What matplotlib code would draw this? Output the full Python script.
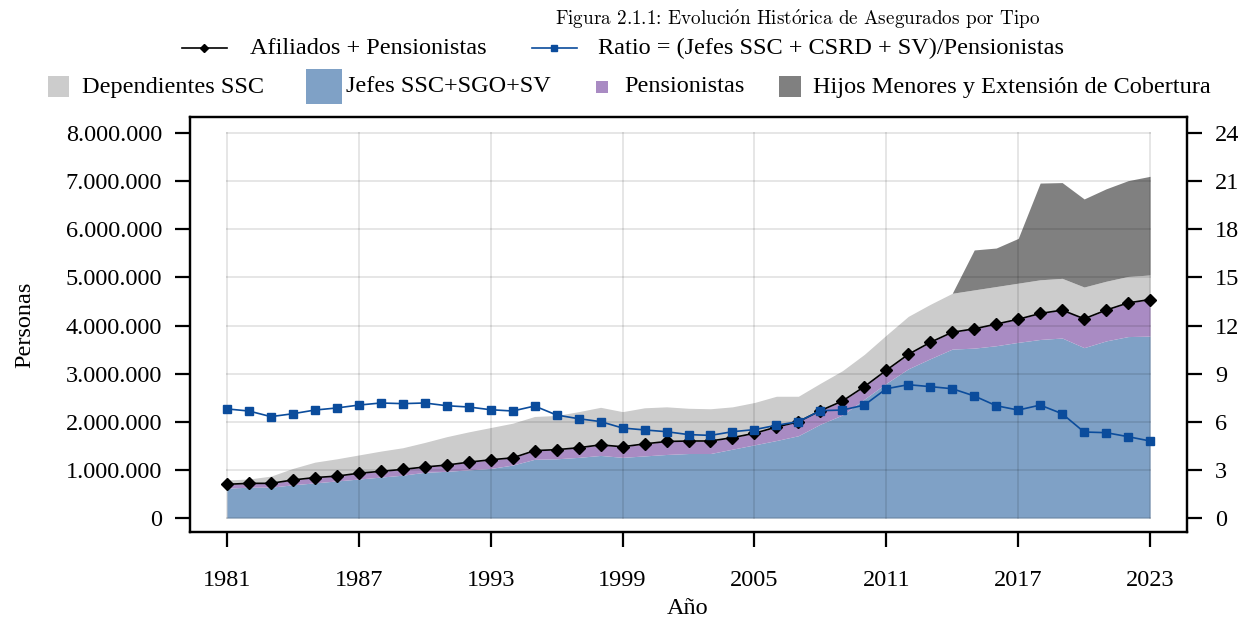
import matplotlib
matplotlib.use('Agg')
import matplotlib.pyplot as plt
from matplotlib.patches import Rectangle
from matplotlib.lines import Line2D
from matplotlib.ticker import FuncFormatter

# Datos
anios = list(range(1981, 2024))
afiliados_pens = [0.70, 0.72, 0.72, 0.79, 0.84, 0.87, 0.93, 0.97, 1.01, 1.06,
                  1.10, 1.16, 1.21, 1.25, 1.40, 1.42, 1.46, 1.52, 1.48, 1.54,
                  1.59, 1.60, 1.60, 1.67, 1.76, 1.89, 2.00, 2.23, 2.43, 2.73,
                  3.07, 3.40, 3.65, 3.86, 3.93, 4.03, 4.13, 4.25, 4.32, 4.14,
                  4.32, 4.47, 4.54]
jefes = [0.62, 0.64, 0.64, 0.69, 0.73, 0.77, 0.81, 0.85, 0.89, 0.95,
         0.97, 1.00, 1.03, 1.10, 1.22, 1.23, 1.26, 1.30, 1.26, 1.29,
         1.32, 1.34, 1.34, 1.43, 1.52, 1.61, 1.71, 1.95, 2.14, 2.47,
         2.80, 3.10, 3.31, 3.51, 3.53, 3.58, 3.65, 3.71, 3.74, 3.54,
         3.68, 3.77, 3.78]
total_ssc = [0.79, 0.81, 0.87, 1.03, 1.16, 1.23, 1.31, 1.39, 1.46, 1.57,
             1.69, 1.79, 1.88, 1.97, 2.11, 2.13, 2.21, 2.30, 2.21, 2.29,
             2.31, 2.28, 2.27, 2.31, 2.40, 2.53, 2.53, 2.80, 3.06, 3.40,
             3.80, 4.19, 4.44, 4.67, 4.74, 4.81, 4.88, 4.95, 4.98, 4.80,
             4.92, 5.02, 5.05]
anios_hijos = list(range(2014, 2024))
total_hijos = [4.67, 5.57, 5.61, 5.81, 6.96, 6.97, 6.63, 6.84, 7.01, 7.10]
ratio = [6.80, 6.67, 6.32, 6.50, 6.73, 6.86, 7.04, 7.17, 7.13, 7.17,
         7.00, 6.92, 6.75, 6.67, 6.98, 6.42, 6.19, 6.01, 5.61, 5.49,
         5.38, 5.20, 5.15, 5.38, 5.51, 5.78, 6.01, 6.69, 6.73, 7.04,
         8.06, 8.31, 8.19, 8.06, 7.61, 7.00, 6.73, 7.04, 6.50, 5.36,
         5.32, 5.07, 4.80]

xticks = [1981, 1987, 1993, 1999, 2005, 2011, 2017, 2023]
M = 1e6
afil = [v * M for v in afiliados_pens]
jef = [v * M for v in jefes]
tot = [v * M for v in total_ssc]
tot_h = [v * M for v in total_hijos]
tot_base = [tot[anios.index(a)] for a in anios_hijos]

c_dep = '#cccccc'
c_jef = '#7fa1c6'
c_pen = '#a98bc3'
c_hij = '#808080'
c_ratio = '#0b4c9c'

plt.rcParams['font.family'] = ['Liberation Serif', 'DejaVu Serif']
plt.rcParams['mathtext.fontset'] = 'cm'
FS = 17.5

W, H = 1245, 622
fig = plt.figure(figsize=(W / 100, H / 100), dpi=100)

def fx(px):
    return px / W

def fy(py):
    return 1 - py / H

ax = fig.add_axes([fx(190), fy(532), fx(1187) - fx(190), fy(117) - fy(532)])
ax.fill_between(anios, 0, jef, color=c_jef, lw=0, zorder=1)
ax.fill_between(anios, jef, afil, color=c_pen, lw=0, zorder=1)
ax.fill_between(anios, afil, tot, color=c_dep, lw=0, zorder=1)
ax.fill_between(anios_hijos, tot_base, tot_h, color=c_hij, lw=0, zorder=1)

# rejilla dentro del area de datos
for x in xticks:
    ax.plot([x, x], [0, 8 * M], color='black', alpha=0.1, lw=1.4, zorder=2)
for y in range(0, 9):
    ax.plot([1981, 2023], [y * M, y * M], color='black', alpha=0.1, lw=1.4, zorder=2)

ax.plot(anios, afil, color='black', lw=1.2, marker='D', ms=6.3, zorder=4)

ax.set_xlim(1979.32, 2024.68)
ax.set_ylim(-0.291 * M, 8.333 * M)
ax.set_xticks(xticks)
ax.set_yticks([i * M for i in range(9)])
ax.yaxis.set_major_formatter(FuncFormatter(lambda v, p: f'{int(round(v)):,}'.replace(',', '.')))

ax2 = ax.twinx()
ax2.plot(anios, ratio, color=c_ratio, lw=1.2, marker='s', ms=5.5, zorder=5)
ax2.set_ylim(-0.873, 25.0)
ax2.set_yticks(range(0, 25, 3))

for a in (ax, ax2):
    for s in a.spines.values():
        s.set_linewidth(1.6)
    a.tick_params(length=11, width=1.6, labelsize=FS, pad=9)
ax.tick_params(axis='x', pad=16)

fig.text(fx(25), fy(325), 'Personas', rotation=90, ha='center', va='center', fontsize=FS)
fig.text(fx(688), fy(609), 'Año', ha='center', va='center', fontsize=FS)

titulo = (r'Figura 2.1.1: Evoluci$\mathrm{\acute{o}}$n Hist$\mathrm{\acute{o}}$rica '
          r'de Asegurados por Tipo')
fig.text(fx(798), fy(19), titulo, ha='center', va='center', fontsize=13.8,
         family=['cmr10', 'DejaVu Serif'])

# leyenda fila 1
fig.add_artist(Line2D([fx(182), fx(227)], [fy(48), fy(48)], color='black', lw=1.2,
                      transform=fig.transFigure))
fig.add_artist(Line2D([fx(204)], [fy(48)], color='black', marker='D', ms=4.5,
                      transform=fig.transFigure))
fig.text(fx(250), fy(48), 'Afiliados + Pensionistas', va='center', fontsize=FS)
fig.add_artist(Line2D([fx(532), fx(577)], [fy(48), fy(48)], color=c_ratio, lw=1.2,
                      transform=fig.transFigure))
fig.add_artist(Line2D([fx(554)], [fy(48)], color=c_ratio, marker='s', ms=5,
                      transform=fig.transFigure))
fig.text(fx(598), fy(48), 'Ratio = (Jefes SSC + CSRD + SV)/Pensionistas', va='center',
         fontsize=FS)

# leyenda fila 2
items = [(48, 76, 21, 21, c_dep, 82, 'Dependientes SSC'),
         (306, 69, 36, 35, c_jef, 346, 'Jefes SSC+SGO+SV'),
         (596, 81, 12, 12, c_pen, 624, 'Pensionistas'),
         (779, 76, 22, 21, c_hij, 813, 'Hijos Menores y Extensión de Cobertura')]
for x0, y0, w, h, col, tx, txt in items:
    fig.add_artist(Rectangle((fx(x0), fy(y0 + h)), w / W, h / H, color=col, lw=0,
                             transform=fig.transFigure))
    fig.text(fx(tx), fy(87), txt, va='center', fontsize=FS)

fig.savefig('out.png', dpi=100)
